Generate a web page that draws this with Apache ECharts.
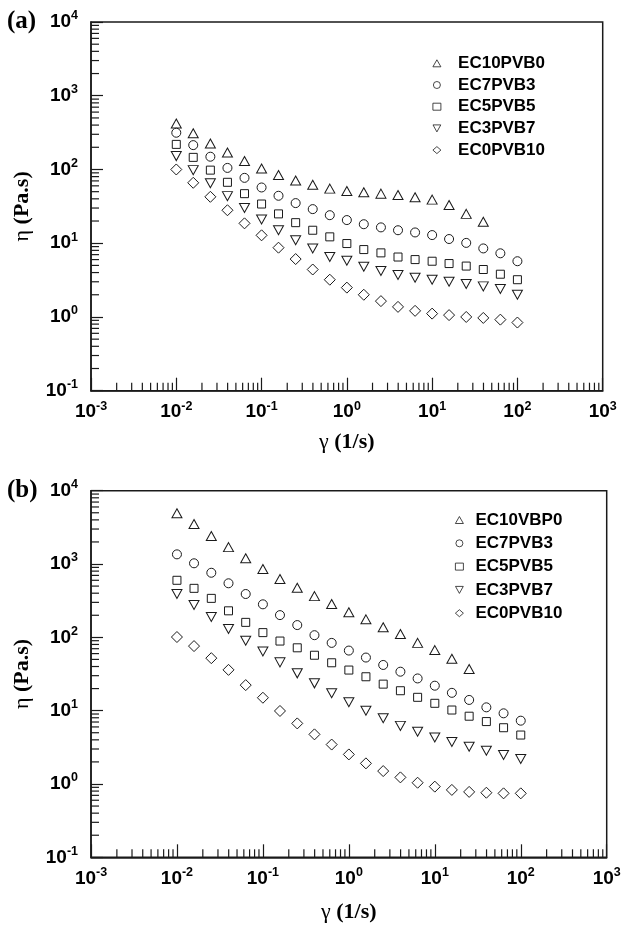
<!DOCTYPE html>
<html><head><meta charset="utf-8">
<script src="https://cdn.jsdelivr.net/npm/echarts@6/dist/echarts.min.js"></script>
<style>html,body{margin:0;padding:0;background:#fff}#c{width:624px;height:925px}</style>
</head><body><div id="c"></div>
<script>
// ---- data ----
const shearRate = [0.01, 0.0158, 0.0251, 0.0398, 0.0631, 0.1, 0.158, 0.251, 0.398, 0.631, 1, 1.58, 2.51, 3.98, 6.31, 10, 15.8, 25.1, 39.8, 63.1, 100];
const namesA = ['EC10PVB0', 'EC7PVB3', 'EC5PVB5', 'EC3PVB7', 'EC0PVB10'];
const namesB = ['EC10VBP0', 'EC7PVB3', 'EC5PVB5', 'EC3PVB7', 'EC0PVB10'];
const a_EC10PVB0 = [420, 310, 225, 170, 130, 103, 84, 71, 62, 55, 51, 49, 47, 45, 42, 39, 33, 25, 19.5];
const a_EC7PVB3 = [315, 214, 149, 105, 77, 57, 44, 35, 29, 24, 20.6, 18.1, 16.4, 15, 14, 12.9, 11.4, 10.1, 8.5, 7.3, 5.7];
const a_EC5PVB5 = [219, 146, 98, 67, 47, 34, 25, 19, 15, 12.2, 9.9, 8.2, 7.4, 6.5, 6.0, 5.7, 5.3, 4.9, 4.4, 3.8, 3.2];
const a_EC3PVB7 = [152, 98, 65, 43.5, 30, 21, 15, 11, 8.5, 6.5, 5.8, 4.8, 4.2, 3.7, 3.4, 3.2, 3.0, 2.8, 2.6, 2.4, 2.0];
const a_EC0PVB10 = [100, 66, 42.6, 28, 18.6, 12.8, 8.7, 6.1, 4.4, 3.2, 2.5, 2.0, 1.64, 1.37, 1.21, 1.11, 1.06, 1.0, 0.97, 0.92, 0.84];
const b_EC10VBP0 = [4920, 3515, 2410, 1700, 1200, 855, 624, 475, 365, 285, 220, 176, 137, 111, 84, 67, 51, 37];
const b_EC7PVB3 = [1355, 1023, 760, 546, 390, 282, 201, 147, 107, 84, 66, 53, 42, 34, 27.5, 21.9, 17.5, 14, 11.1, 9.2, 7.3];
const b_EC5PVB5 = [600, 466, 340, 230, 160, 116, 89, 72, 57, 45, 35.8, 29, 23, 18.7, 15.2, 12.6, 10.2, 8.4, 7.1, 5.85, 4.65];
const b_EC3PVB7 = [390, 276, 190, 130, 90, 64, 45.6, 32.3, 23.6, 17.3, 13, 10, 7.9, 6.2, 5.15, 4.3, 3.73, 3.22, 2.84, 2.48, 2.19];
const b_EC0PVB10 = [101, 76, 52, 36, 22.3, 15, 9.9, 6.7, 4.75, 3.45, 2.53, 1.91, 1.5, 1.23, 1.04, 0.92, 0.83, 0.78, 0.76, 0.745, 0.745];
const xTickExponents = [-3, -2, -1, 0, 1, 2, 3];
const yTickExponents = [-1, 0, 1, 2, 3, 4];
const minorMultipliers = [2, 3, 4, 5, 6, 7, 8, 9];

// ---- helpers ----
const INK = '#1a1a1a';
const markers = [
  {symbol: 'triangle', size: [10, 9]},
  {symbol: 'circle', size: 9},
  {symbol: 'rect', size: 8},
  {symbol: 'path://M0,0L10,0L5,9Z', size: [10, 9]},
  {symbol: 'diamond', size: [11, 11]}
];
const panelA = [a_EC10PVB0, a_EC7PVB3, a_EC5PVB5, a_EC3PVB7, a_EC0PVB10];
const panelB = [b_EC10VBP0, b_EC7PVB3, b_EC5PVB5, b_EC3PVB7, b_EC0PVB10];

function minorValues(exps) {
  const out = [];
  for (let i = 0; i < exps.length - 1; i++) for (const m of minorMultipliers) out.push(m * Math.pow(10, exps[i]));
  return out;
}
const xMinor = minorValues(xTickExponents);
const yMinor = minorValues(yTickExponents);
const xMin = Math.pow(10, xTickExponents[0]), xMax = Math.pow(10, xTickExponents[xTickExponents.length - 1]);
const yMin = Math.pow(10, yTickExponents[0]), yMax = Math.pow(10, yTickExponents[yTickExponents.length - 1]);

const tickFmt = v => '{b|10}{s|' + Math.round(Math.log10(v)) + '}';
const tickRich = {
  b: {fontFamily: 'Liberation Sans', fontWeight: 'bold', fontSize: 19, color: '#000', lineHeight: 21},
  s: {fontFamily: 'Liberation Sans', fontWeight: 'bold', fontSize: 12.5, color: '#000', padding: [0, 0, 12, 0]}
};
const nameRich = {
  g: {fontFamily: 'Liberation Serif', fontSize: 22, fontWeight: 'normal', color: '#000'},
  b: {fontFamily: 'Liberation Serif', fontSize: 22, fontWeight: 'bold', color: '#000'}
};

function xAxisFor(gi, nameGap) {
  return {
    type: 'log', logBase: 10, gridIndex: gi, min: xMin, max: xMax, splitNumber: 6,
    axisLine: {show: true, lineStyle: {color: INK, width: 1.5}},
    axisTick: {show: true, inside: true, length: 13, lineStyle: {color: INK, width: 1.2}},
    splitLine: {show: false}, minorTick: {show: false},
    axisLabel: {formatter: tickFmt, margin: 9, rich: tickRich},
    name: '{g|γ} {b|(1/s)}', nameLocation: 'middle', nameGap: nameGap,
    nameTextStyle: {fontFamily: 'Liberation Serif', fontSize: 22, fontWeight: 'bold', color: '#000', rich: nameRich}
  };
}
function yAxisFor(gi) {
  return {
    type: 'log', logBase: 10, gridIndex: gi, min: yMin, max: yMax, splitNumber: 5,
    axisLine: {show: true, lineStyle: {color: INK, width: 1.5}},
    axisTick: {show: true, inside: true, length: 12, lineStyle: {color: INK, width: 1.2}},
    splitLine: {show: false}, minorTick: {show: false},
    axisLabel: {formatter: tickFmt, margin: 13, rich: tickRich},
    name: '{g|η} {b|(Pa.s)}', nameLocation: 'middle', nameGap: 58, nameRotate: 90,
    nameTextStyle: {fontFamily: 'Liberation Serif', fontSize: 22, fontWeight: 'bold', color: '#000', rich: nameRich}
  };
}

const series = [];
function addPanel(gi, names, values) {
  values.forEach((arr, k) => {
    series.push({
      type: 'scatter', name: names[k], xAxisIndex: gi, yAxisIndex: gi,
      symbol: markers[k].symbol, symbolSize: markers[k].size,
      itemStyle: {color: '#fff', borderColor: INK, borderWidth: 1, opacity: 1},
      emphasis: {disabled: true},
      data: arr.map((v, i) => [shearRate[i], v]), z: 3
    });
  });
  series.push({
    type: 'custom', xAxisIndex: gi, yAxisIndex: gi, silent: true, z: 4,
    data: xMinor.map(v => [v, yMin]),
    renderItem: (p, api) => {
      const c = api.coord([api.value(0), api.value(1)]);
      return {type: 'line', shape: {x1: c[0], y1: c[1], x2: c[0], y2: c[1] - 8}, style: {stroke: INK, lineWidth: 1.2}};
    }
  });
  series.push({
    type: 'custom', xAxisIndex: gi, yAxisIndex: gi, silent: true, z: 4,
    data: yMinor.map(v => [xMin, v]),
    renderItem: (p, api) => {
      const c = api.coord([api.value(0), api.value(1)]);
      return {type: 'line', shape: {x1: c[0], y1: c[1], x2: c[0] + 8, y2: c[1]}, style: {stroke: INK, lineWidth: 1.2}};
    }
  });
}
addPanel(0, namesA, panelA);
addPanel(1, namesB, panelB);

function legendFor(names, left, top, gap, spacer) {
  return {
    orient: 'vertical', left: left, top: top, padding: 0, itemWidth: 8, itemHeight: 7, itemGap: gap,
    selectedMode: false, data: names,
    itemStyle: {borderWidth: 0.8, borderColor: INK, color: '#fff'},
    formatter: n => '{sp|}{t|' + n + '}',
    textStyle: {rich: {sp: {width: spacer}, t: {fontFamily: 'Liberation Sans', fontWeight: 'bold', fontSize: 17, color: '#000', lineHeight: 17}}}
  };
}

const chart = echarts.init(document.getElementById('c'), null, {renderer: 'canvas'});
chart.setOption({
  animation: false,
  backgroundColor: '#fff',
  title: [
    {text: '(a)', left: 7, top: 9, padding: 0, textStyle: {fontFamily: 'Liberation Serif', fontWeight: 'bold', fontSize: 25, color: '#000'}},
    {text: '(b)', left: 7, top: 478, padding: 0, textStyle: {fontFamily: 'Liberation Serif', fontWeight: 'bold', fontSize: 25, color: '#000'}}
  ],
  grid: [
    {left: 91, top: 22, width: 511.7, height: 368.7, show: true, borderColor: INK, borderWidth: 1.5, backgroundColor: 'transparent'},
    {left: 91, top: 490.7, width: 515.7, height: 366.6, show: true, borderColor: INK, borderWidth: 1.5, backgroundColor: 'transparent'}
  ],
  legend: [
    legendFor(namesA, 432.5, 54.8, 4.7, 12.2),
    legendFor(namesB, 455, 511.5, 6.3, 7)
  ],
  xAxis: [xAxisFor(0, 41), xAxisFor(1, 44)],
  yAxis: [yAxisFor(0), yAxisFor(1)],
  series: series
});
</script></body></html>
